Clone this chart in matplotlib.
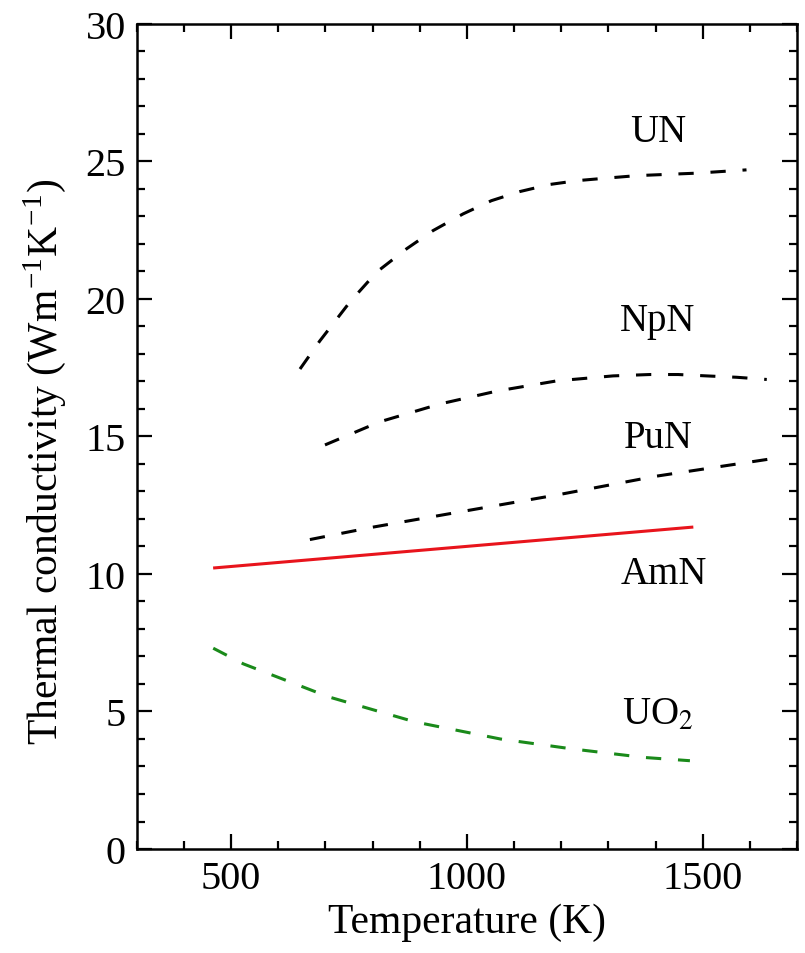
import matplotlib
matplotlib.use("Agg")
import matplotlib.pyplot as plt
from matplotlib.ticker import MultipleLocator

plt.rcParams["font.family"] = ["Liberation Serif", "DejaVu Serif"]
plt.rcParams["mathtext.fontset"] = "stix"

# values
un_T = [646, 688, 752, 809, 872, 928, 992, 1052, 1112, 1176, 1235, 1296, 1360, 1430, 1487, 1593]
un_k = [17.45, 18.47, 19.89, 20.98, 21.82, 22.48, 23.09, 23.57, 23.9, 24.16, 24.3, 24.39, 24.48, 24.53, 24.57, 24.69]

npn_T = [699, 815, 943, 1064, 1191, 1310, 1388, 1448, 1508, 1572, 1636]
npn_k = [14.69, 15.53, 16.18, 16.65, 17.02, 17.2, 17.25, 17.25, 17.2, 17.15, 17.07]

pun_T = [667, 800, 1000, 1200, 1400, 1651]
pun_k = [11.25, 11.7, 12.3, 12.9, 13.55, 14.2]

amn_T = [465, 1477]
amn_k = [10.22, 11.7]

uo2_T = [462, 526, 707, 890, 1071, 1223, 1375, 1473]
uo2_k = [7.30, 6.73, 5.53, 4.62, 4.0, 3.64, 3.33, 3.21]

labels = ["UN", "NpN", "PuN", "AmN", "UO$_2$"]
label_T = [1405, 1405, 1405, 1418, 1405]
label_k = [26.1, 19.2, 14.95, 10.0, 4.9]

fig = plt.figure(figsize=(8.05, 9.54), dpi=100)
ax = fig.add_axes([0.170, 0.109, 0.820, 0.865])

dash = (0, (5, 5.5))
ax.plot(un_T, un_k, color="black", lw=2.2, linestyle=dash)
ax.plot(npn_T, npn_k, color="black", lw=2.2, linestyle=dash)
ax.plot(pun_T, pun_k, color="black", lw=2.2, linestyle=dash)
ax.plot(amn_T, amn_k, color="#e8141c", lw=2.2)
ax.plot(uo2_T, uo2_k, color="#1a8a1a", lw=2.2, linestyle=dash)

for s, t, k in zip(labels, label_T, label_k):
    ax.text(t, k, s, fontsize=28, ha="center", va="center")

ax.set_xlim(300, 1700)
ax.set_ylim(0, 30)
ax.xaxis.set_major_locator(MultipleLocator(500))
ax.xaxis.set_minor_locator(MultipleLocator(100))
ax.yaxis.set_major_locator(MultipleLocator(5))
ax.yaxis.set_minor_locator(MultipleLocator(1))
ax.tick_params(which="both", direction="in", top=True, right=True, width=1.6, labelsize=29)
ax.tick_params(which="major", length=11, pad=8)
ax.tick_params(which="minor", length=6)
for sp in ax.spines.values():
    sp.set_linewidth(1.8)

ax.set_xlabel("Temperature (K)", fontsize=30, labelpad=4)
ax.set_ylabel("Thermal conductivity (Wm$^{\\mathregular{-1}}$K$^{\\mathregular{-1}}$)", fontsize=30, labelpad=6)
ax.yaxis.set_label_coords(-0.105, 0.47)

fig.savefig("out.png", dpi=100)
